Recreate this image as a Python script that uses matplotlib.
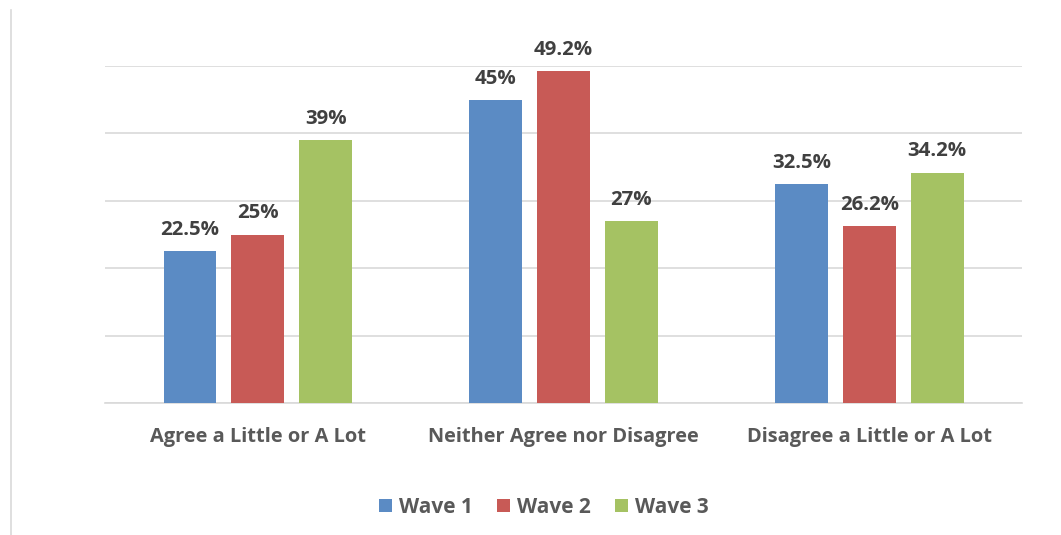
import numpy as np
import matplotlib.pyplot as plt
from matplotlib.lines import Line2D

# chart data
categories = ['Agree a Little or A Lot', 'Neither Agree nor Disagree', 'Disagree a Little or A Lot']
series_names = ['Wave 1', 'Wave 2', 'Wave 3']
wave1 = [22.5, 45, 32.5]
wave2 = [25, 49.2, 26.2]
wave3 = [39, 27, 34.2]
colors = ['#5b8bc4', '#c85a56', '#a5c263']

plt.rcParams['font.family'] = ['Open Sans', 'DejaVu Sans']

fig = plt.figure(figsize=(10.61, 5.35), dpi=100)
ax = fig.add_axes([0.099, 0.2467, 0.8643, 0.6299])

x = np.arange(len(categories))
width = 0.173
step = 0.222

for i, (vals, name) in enumerate(zip([wave1, wave2, wave3], series_names)):
    pos = x + (i - 1) * step
    bars = ax.bar(pos, vals, width, color=colors[i], label=name, zorder=3)
    for b, v in zip(bars, vals):
        lbl = ('%g' % v) + '%'
        ax.annotate(lbl, (b.get_x() + b.get_width() / 2, v), xytext=(0, 8),
                    textcoords='offset points', ha='center', va='bottom',
                    fontsize=14.7, fontweight='bold', color='#404040')

ax.set_xlim(-0.5, 2.5)
ax.set_ylim(0, 50)
ax.set_yticks([0, 10, 20, 30, 40, 50])
ax.set_yticklabels([])
ax.tick_params(axis='y', length=0)
ax.tick_params(axis='x', length=0, pad=17)
ax.set_xticks(x)
ax.set_xticklabels(categories, fontsize=14.4, fontweight='bold', color='#595959')
ax.grid(axis='y', color='#d9d9d9', linewidth=1.2, zorder=0)
for s in ['top', 'right', 'left']:
    ax.spines[s].set_visible(False)
ax.spines['bottom'].set_color('#d9d9d9')
ax.spines['bottom'].set_linewidth(1.2)

leg = fig.legend(loc='center', bbox_to_anchor=(0.5127, 0.052), ncol=3, frameon=False,
                 handlelength=0.63, handleheight=0.63, handletextpad=0.34, columnspacing=1.15,
                 prop={'size': 15, 'weight': 'bold'})
for t in leg.get_texts():
    t.set_color('#595959')

fig.add_artist(Line2D([11 / 1061, 11 / 1061], [0, 525 / 535], color='#d9d9d9', linewidth=1.2))

fig.savefig('out.png', dpi=100)
